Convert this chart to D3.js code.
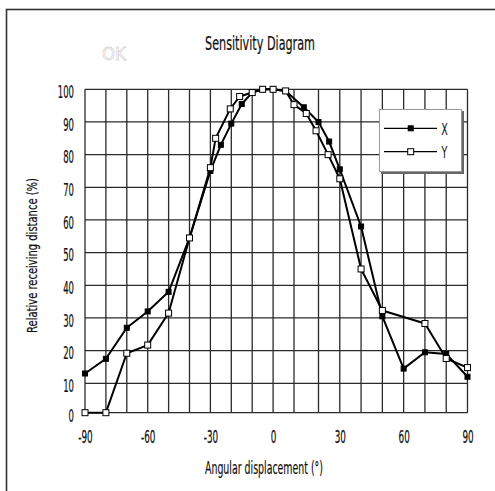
<!DOCTYPE html>
<html>
<head>
<meta charset="utf-8">
<script src="https://cdn.jsdelivr.net/npm/d3@7"></script>
<style>
  html, body { margin: 0; padding: 0; background: #fff; }
  svg { display: block; }
  text { font-family: "DejaVu Sans", sans-serif; fill: #111; }
</style>
</head>
<body>
<svg id="chart" width="495" height="491"></svg>
<script>
// ---- data ----
const xAngles = [-90,-80,-70,-60,-50,-40,-30,-25,-20,-15,-10,-5,0,6,14,20,25,30,40,50,60,70,80,90];
const xValues = [13,17.5,27,32,38,54.5,75,83,89.5,95.5,99,100,100,99.5,94.5,90,84,75.5,58,30.5,14.5,19.5,19,12];
const yAngles = [-90,-80,-70,-60,-50,-40,-30,-27.5,-20.5,-16,-10,-5,0,6,10,15,19,24.5,30,40,50,70,80,90];
const yValues = [0,0,19.2,21.7,31.5,54.5,76,85,94,97.8,99,100,100,99.5,95.3,92.6,87.3,80,72.6,45,32.3,28.3,17.6,14.8];
const seriesNames = ["X","Y"];
const xTickValues = [-90,-60,-30,0,30,60,90];
const xTickLabels = ["-90","-60","-30","0","30","60","90"];
const xGridValues = d3.range(-90, 91, 10);
const yTickValues = d3.range(0, 101, 10);
const titleText = "Sensitivity Diagram";
const xTitle = "Angular displacement (°)";
const yTitle = "Relative receiving distance (%)";

const svg = d3.select("#chart");

// scales (piecewise to follow the reference's pixel grid)
const x = d3.scaleLinear().domain([-90, 10, 20, 90]).range([85, 294, 318.5, 467.5]);
const y = d3.scaleLinear().domain([0, 10, 100]).range([412.7, 383.3, 89.3]);

// helper: squeezed text
function squeezed(parent, px, py, str, size, opts = {}) {
  const g = parent.append("g");
  const t = g.append("text").attr("font-size", size)
    .attr("text-anchor", opts.anchor || "middle").text(str);
  let k = opts.k || 1;
  if (opts.width) k = opts.width / t.node().getComputedTextLength();
  g.attr("transform", `translate(${px},${py}) rotate(${opts.rotate || 0}) scale(${k},1)`);
  if (opts.fill) t.style("fill", opts.fill);
  if (opts.stroke) t.style("stroke", opts.stroke).style("stroke-width", opts.strokeWidth || 0.8);
  return t;
}

// outer border
svg.append("rect").attr("x", 6.5).attr("y", 9.5).attr("width", 520).attr("height", 520)
  .attr("fill", "#fff").attr("stroke", "#333").attr("stroke-width", 1.6);

// title and ghost text
squeezed(svg, 260, 49.5, titleText, 20, { width: 110, stroke: "#111", strokeWidth: 0.25 });
squeezed(svg, 114, 60, "OK", 17, { width: 24, fill: "#fff", stroke: "#d6d6d6", strokeWidth: 0.8 });

// grid
const grid = svg.append("g").attr("stroke", "#2a2a2a").attr("stroke-width", 1.3);
grid.selectAll("line.v").data(xGridValues).join("line")
  .attr("x1", d => x(d)).attr("x2", d => x(d)).attr("y1", y(0)).attr("y2", y(100));
grid.selectAll("line.h").data(yTickValues).join("line")
  .attr("x1", x(-90)).attr("x2", x(90)).attr("y1", d => y(d)).attr("y2", d => y(d));

// axes (labels only)
const xAxis = svg.append("g").attr("transform", `translate(0,${y(0)})`)
  .call(d3.axisBottom(x).tickValues(xTickValues).tickFormat((d, i) => xTickLabels[i]).tickSize(0));
xAxis.select(".domain").remove();
xAxis.selectAll("text").attr("y", 0).attr("dy", null).attr("font-size", 17)
  .attr("font-family", "DejaVu Sans").attr("fill", "#111")
  .attr("stroke", "#111").attr("stroke-width", 0.25)
  .attr("transform", "translate(0,30) scale(0.52,1)");

const yAxis = svg.append("g").attr("transform", `translate(${x(-90)},0)`)
  .call(d3.axisLeft(y).tickValues(yTickValues).tickSize(0));
yAxis.select(".domain").remove();
yAxis.selectAll("text").attr("x", 0).attr("dy", null).attr("font-size", 17)
  .attr("font-family", "DejaVu Sans").attr("fill", "#111")
  .attr("stroke", "#111").attr("stroke-width", 0.25)
  .attr("transform", "translate(-11,8.3) scale(0.5,1)");

// axis titles
squeezed(svg, 264, 474, xTitle, 18, { width: 118, stroke: "#111", strokeWidth: 0.2 });
squeezed(svg, 36.5, 255.5, yTitle, 13.5, { width: 155, rotate: -90, stroke: "#111", strokeWidth: 0.2 });

// series
const line = d3.line().x(d => x(d[0])).y(d => y(d[1]));
const xData = xAngles.map((a, i) => [a, xValues[i]]);
const yData = yAngles.map((a, i) => [a, yValues[i]]);

function drawSeries(data, filled) {
  const g = svg.append("g");
  g.append("path").datum(data).attr("d", line).attr("fill", "none")
    .attr("stroke", "#000").attr("stroke-width", 2).attr("stroke-linejoin", "round");
  const s = filled ? 5 : 6;
  g.selectAll("rect").data(data).join("rect")
    .attr("x", d => x(d[0]) - s / 2).attr("y", d => y(d[1]) - s / 2)
    .attr("width", s).attr("height", s)
    .attr("fill", filled ? "#000" : "#fff").attr("stroke", "#000").attr("stroke-width", 1);
}
drawSeries(xData, true);
drawSeries(yData, false);

// legend
const lg = svg.append("g");
lg.append("rect").attr("x", 381).attr("y", 111).attr("width", 83).attr("height", 63).attr("fill", "#666");
lg.append("rect").attr("x", 379.5).attr("y", 109.5).attr("width", 82).attr("height", 62)
  .attr("fill", "#fff").attr("stroke", "#999").attr("stroke-width", 1);
const legendRows = [{ name: seriesNames[0], filled: true, ly: 128.3 }, { name: seriesNames[1], filled: false, ly: 151.7 }];
legendRows.forEach(r => {
  lg.append("line").attr("x1", 384).attr("x2", 437).attr("y1", r.ly).attr("y2", r.ly)
    .attr("stroke", "#000").attr("stroke-width", 1.2);
  const s = r.filled ? 5 : 6;
  lg.append("rect").attr("x", 410.7 - s / 2).attr("y", r.ly - s / 2).attr("width", s).attr("height", s)
    .attr("fill", r.filled ? "#000" : "#fff").attr("stroke", "#000").attr("stroke-width", 1);
  squeezed(lg, 444.5, r.ly + 6.7, r.name, 16, { k: 0.6 });
});
</script>
</body>
</html>
